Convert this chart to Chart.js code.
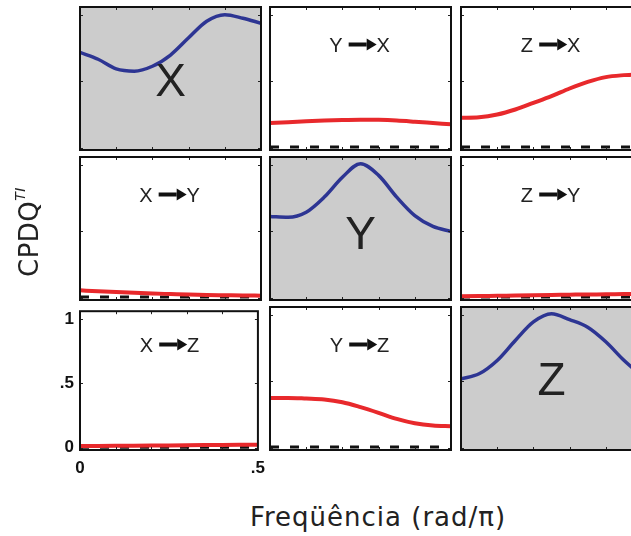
<!DOCTYPE html>
<html>
<head>
<meta charset="utf-8">
<script src="https://cdn.jsdelivr.net/npm/chart.js@4.4.0/dist/chart.umd.min.js"></script>
<style>
  html, body { margin: 0; padding: 0; background: #fff; overflow: hidden; }
  body { width: 631px; height: 536px; position: relative; }
  .panel { position: absolute; }
  .link {
    position: absolute; font-family: "Liberation Sans", Arial, sans-serif; font-size: 20px;
    color: #222; display: flex; align-items: center; justify-content: center; white-space: nowrap;
    transform: translate(-50%, -50%);
  }
  .arrow { display: inline-block; position: relative; width: 18px; height: 4px; background: #111; margin: 0 10px 0 6px; }
  .arrow::after {
    content: ""; position: absolute; left: 18px; top: -4px;
    border-left: 10px solid #111; border-top: 6px solid transparent; border-bottom: 6px solid transparent;
  }
  .node {
    position: absolute; font-family: "Liberation Sans", Arial, sans-serif; font-size: 46px; color: #222;
    transform: translate(-50%, -50%); line-height: 1;
  }
  #xtitle {
    position: absolute; left: 378px; top: 517px; transform: translate(-50%, -50%);
    font-family: "DejaVu Sans", sans-serif; font-size: 26px; letter-spacing: 1px; color: #222; white-space: nowrap;
  }
  #ytitle {
    position: absolute; left: 28px; top: 232px; transform: translate(-50%, -50%) rotate(-90deg);
    font-family: "DejaVu Sans", sans-serif; font-size: 26px; letter-spacing: 0.5px; color: #222; white-space: nowrap;
  }
  #ytitle sup { font-size: 14px; font-style: italic; vertical-align: 13px; }
</style>
</head>
<body>
<div id="fig"></div>
<div id="xtitle">Freqüência (rad/π)</div>
<div id="ytitle">CPDQ<sup>TI</sup></div>
<script>
// frequency axis (rad/pi)
const freq = [0, 0.05, 0.1, 0.15, 0.2, 0.25, 0.3, 0.35, 0.4, 0.45, 0.5];

// spectral (diagonal) curves
const cpdqXX = [0.72, 0.668, 0.595, 0.578, 0.615, 0.70, 0.83, 0.955, 1.005, 0.978, 0.94];
const cpdqYY = [0.614, 0.608, 0.646, 0.76, 0.91, 1.012, 0.924, 0.76, 0.62, 0.538, 0.50];
const cpdqZZ = [0.52, 0.558, 0.659, 0.81, 0.95, 1.012, 0.967, 0.91, 0.80, 0.66, 0.54];

// directed (off-diagonal) curves, source -> target
const cpdqYX = [0.186, 0.192, 0.199, 0.205, 0.209, 0.211, 0.21, 0.205, 0.196, 0.186, 0.176];
const cpdqZX = [0.225, 0.229, 0.25, 0.288, 0.338, 0.389, 0.447, 0.497, 0.533, 0.548, 0.556];
const cpdqXY = [0.055, 0.048, 0.042, 0.036, 0.031, 0.027, 0.023, 0.02, 0.018, 0.016, 0.015];
const cpdqZY = [0.01, 0.012, 0.014, 0.016, 0.018, 0.02, 0.022, 0.024, 0.025, 0.027, 0.028];
const cpdqXZ = [0.013, 0.014, 0.015, 0.016, 0.017, 0.018, 0.019, 0.02, 0.021, 0.022, 0.023];
const cpdqYZ = [0.376, 0.376, 0.371, 0.364, 0.343, 0.306, 0.263, 0.217, 0.184, 0.167, 0.162];

// significance threshold (dashed)
const thresholdFreq = [0, 0.5];
const thresholdLevel = [0.004, 0.004];

const nodes = ['X', 'Y', 'Z'];
const xTicks = [0, 0.5];
const xTickLabels = ['0', '.5'];
const yTicks = [0, 0.5, 1];
const yTickLabels = ['0', '.5', '1'];
const innerXTicks = [0.1, 0.2, 0.3, 0.4];

// rows = target, cols = source
const grid = [
  [cpdqXX, cpdqYX, cpdqZX],
  [cpdqXY, cpdqYY, cpdqZY],
  [cpdqXZ, cpdqYZ, cpdqZZ]
];

const colLeft = [80, 270, 461];
const rowTop = [6.5, 156.5, 306.5];
const nodeOffset = [73, 76, 72];
const panelW = 181, panelH = 143;
const Y_MIN = -0.018, Y_MAX = 1.063;

// frame, inner ticks and grey fill for the auto-spectra
const panelFrame = {
  id: 'panelFrame',
  beforeDatasetsDraw(chart, args, opts) {
    if (!opts.shaded) return;
    const a = chart.chartArea, ctx = chart.ctx;
    ctx.save();
    ctx.fillStyle = '#cccccc';
    ctx.fillRect(a.left, a.top, a.right - a.left, a.bottom - a.top);
    ctx.restore();
  },
  afterDraw(chart) {
    const a = chart.chartArea, ctx = chart.ctx;
    const sx = chart.scales.x, sy = chart.scales.y;
    ctx.save();
    ctx.strokeStyle = '#222';
    ctx.lineWidth = 1;
    ctx.beginPath();
    innerXTicks.forEach(v => {
      const px = Math.round(sx.getPixelForValue(v)) + 0.5;
      ctx.moveTo(px, a.top); ctx.lineTo(px, a.top + 3);
      ctx.moveTo(px, a.bottom); ctx.lineTo(px, a.bottom - 3);
    });
    yTicks.forEach(v => {
      const py = Math.round(sy.getPixelForValue(v)) + 0.5;
      ctx.moveTo(a.left, py); ctx.lineTo(a.left + 3, py);
      ctx.moveTo(a.right, py); ctx.lineTo(a.right - 3, py);
    });
    ctx.stroke();
    ctx.lineWidth = 2;
    ctx.strokeStyle = '#111';
    ctx.strokeRect(a.left, a.top, a.right - a.left, a.bottom - a.top);
    ctx.restore();
  }
};

function makePanel(r, c) {
  const diag = r === c;
  const corner = r === 2 && c === 0;
  const pad = corner ? { left: 40, right: 12, top: 12, bottom: 30 } : { left: 4, right: 4, top: 4, bottom: 4 };
  const w = panelW + pad.left + pad.right;
  const h = panelH + pad.top + pad.bottom;

  const holder = document.createElement('div');
  holder.className = 'panel';
  holder.style.left = (colLeft[c] - pad.left) + 'px';
  holder.style.top = (rowTop[r] - pad.top) + 'px';
  holder.style.width = w + 'px';
  holder.style.height = h + 'px';
  const canvas = document.createElement('canvas');
  canvas.width = w; canvas.height = h;
  holder.appendChild(canvas);
  document.getElementById('fig').appendChild(holder);

  const datasets = [{
    data: freq.map((f, i) => ({ x: f, y: grid[r][c][i] })),
    borderColor: diag ? '#2d3593' : '#e8292c',
    borderWidth: diag ? 3.5 : 4,
    pointRadius: 0,
    cubicInterpolationMode: 'monotone',
    order: 0
  }];
  if (!diag) {
    datasets.push({
      data: thresholdFreq.map((f, i) => ({ x: f, y: thresholdLevel[i] })),
      borderColor: '#111',
      borderWidth: 3,
      borderDash: [9, 11],
      pointRadius: 0,
      order: 1
    });
  }

  const tickFont = { family: '"Liberation Sans", Arial, sans-serif', size: 17, weight: 'bold' };

  new Chart(canvas, {
    type: 'line',
    data: { datasets },
    options: {
      responsive: false,
      animation: false,
      events: [],
      layout: { padding: corner ? { left: 4, right: 12, top: 12, bottom: 4 } : 4 },
      plugins: {
        legend: { display: false },
        tooltip: { enabled: false },
        panelFrame: { shaded: diag }
      },
      scales: {
        x: {
          type: 'linear', min: 0, max: 0.5,
          display: corner,
          grid: { display: false, drawTicks: false },
          border: { display: false },
          afterBuildTicks: s => { s.ticks = xTicks.map(v => ({ value: v })); },
          afterFit: s => { if (corner) s.height = 26; },
          ticks: {
            color: '#111', font: tickFont, padding: 8, maxRotation: 0,
            callback: v => xTickLabels[xTicks.indexOf(v)]
          }
        },
        y: {
          type: 'linear', min: Y_MIN, max: Y_MAX,
          display: corner,
          grid: { display: false, drawTicks: false },
          border: { display: false },
          afterBuildTicks: s => { s.ticks = yTicks.map(v => ({ value: v })); },
          afterFit: s => { if (corner) s.width = 36; },
          ticks: {
            color: '#111', font: tickFont, padding: 6,
            callback: v => yTickLabels[yTicks.indexOf(v)]
          }
        }
      }
    },
    plugins: [panelFrame]
  });

  const cx = colLeft[c] + panelW / 2;
  if (diag) {
    const lab = document.createElement('div');
    lab.className = 'node';
    lab.textContent = nodes[r];
    lab.style.left = cx + 'px';
    lab.style.top = (rowTop[r] + nodeOffset[r]) + 'px';
    document.getElementById('fig').appendChild(lab);
  } else {
    const lab = document.createElement('div');
    lab.className = 'link';
    lab.innerHTML = nodes[c] + '<span class="arrow"></span>' + nodes[r];
    lab.style.left = (cx - 1) + 'px';
    lab.style.top = (rowTop[r] + 38) + 'px';
    document.getElementById('fig').appendChild(lab);
  }
}

for (let r = 0; r < 3; r++) {
  for (let c = 0; c < 3; c++) makePanel(r, c);
}
</script>
</body>
</html>
